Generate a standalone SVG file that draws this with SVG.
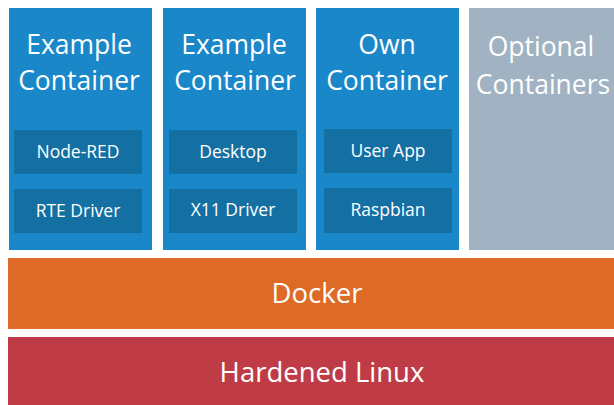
<svg xmlns="http://www.w3.org/2000/svg" width="614" height="405" viewBox="0 0 614 405">
<style>
.c{fill:#1a87c9}
.i{fill:#146fa3}
.o{fill:#a1b2c2}
.t{font-family:"Open Sans","Noto Sans",sans-serif;fill:#fff;text-anchor:middle}
.h{font-size:26.5px}
.s{font-size:17.5px}
.b{font-size:27.5px}
</style>
<rect width="614" height="405" fill="#fff"/>
<g id="container1">
<rect class="c" x="9" y="8" width="143" height="242"/>
<text class="t h" x="79" y="54">Example</text>
<text class="t h" x="79" y="90">Container</text>
<rect class="i" x="14" y="130" width="128" height="44"/>
<text class="t s" x="78" y="158">Node-RED</text>
<rect class="i" x="14" y="189" width="128" height="44"/>
<text class="t s" x="78" y="217">RTE Driver</text>
</g>
<g id="container2">
<rect class="c" x="163" y="8" width="143" height="242"/>
<text class="t h" x="234" y="54">Example</text>
<text class="t h" x="235" y="90">Container</text>
<rect class="i" x="169" y="130" width="128" height="44"/>
<text class="t s" x="233" y="158">Desktop</text>
<rect class="i" x="169" y="189" width="128" height="44"/>
<text class="t s" x="233" y="216">X11 Driver</text>
</g>
<g id="container3">
<rect class="c" x="316" y="8" width="143" height="242"/>
<text class="t h" x="387" y="54">Own</text>
<text class="t h" x="387" y="90">Container</text>
<rect class="i" x="324" y="129" width="128" height="44"/>
<text class="t s" x="388" y="157">User App</text>
<rect class="i" x="324" y="188" width="128" height="45"/>
<text class="t s" x="388" y="216">Raspbian</text>
</g>
<g id="optional">
<rect class="o" x="469" y="8" width="145" height="242"/>
<text class="t h" x="541" y="56">Optional</text>
<text class="t h" x="543" y="94">Containers</text>
</g>
<g id="docker">
<rect fill="#dd6b27" x="8" y="258" width="606" height="71"/>
<text class="t b" x="317" y="303">Docker</text>
</g>
<g id="linux">
<rect fill="#bf3b45" x="8" y="337" width="606" height="68"/>
<text class="t b" x="322" y="382">Hardened Linux</text>
</g>
<g id="connectors"/>
</svg>
